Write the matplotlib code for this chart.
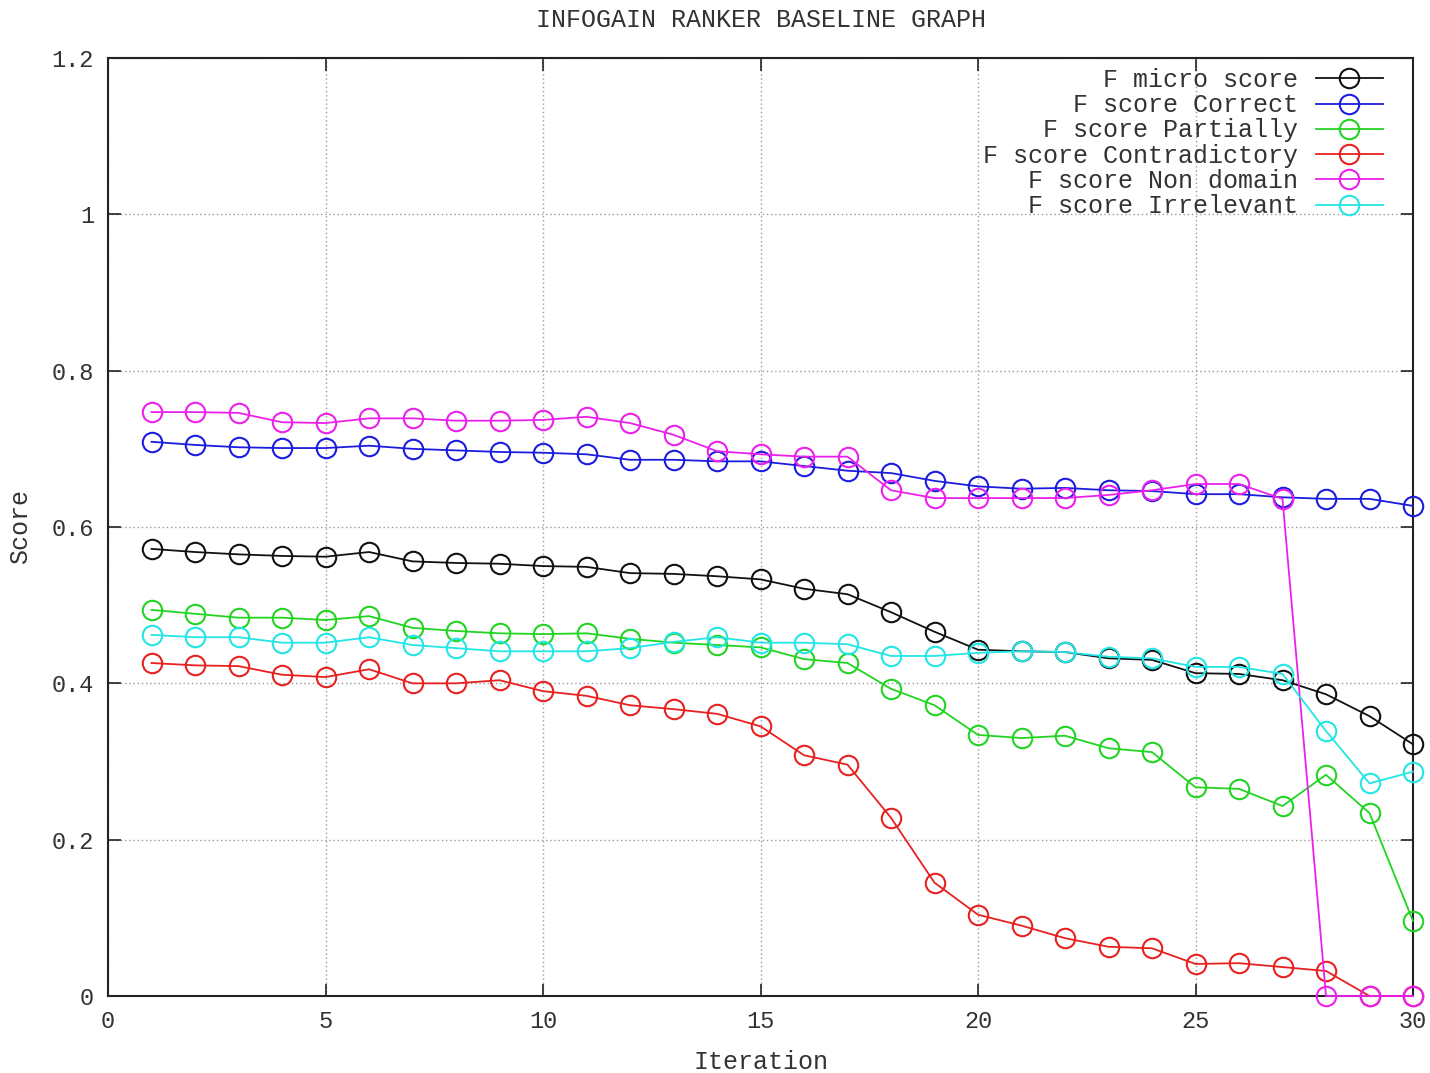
import matplotlib
matplotlib.use("Agg")
import matplotlib.pyplot as plt

iterations = list(range(1, 31))

f_micro = [0.572, 0.568, 0.565, 0.563, 0.562, 0.568, 0.556, 0.554, 0.553, 0.550,
           0.549, 0.541, 0.540, 0.537, 0.533, 0.521, 0.514, 0.491, 0.466, 0.443,
           0.441, 0.440, 0.432, 0.430, 0.413, 0.412, 0.404, 0.386, 0.358, 0.322]
f_correct = [0.709, 0.705, 0.702, 0.701, 0.701, 0.704, 0.700, 0.698, 0.696, 0.695,
             0.693, 0.686, 0.686, 0.684, 0.684, 0.678, 0.672, 0.669, 0.659, 0.652,
             0.649, 0.650, 0.647, 0.646, 0.642, 0.642, 0.638, 0.636, 0.636, 0.627]
f_partially = [0.494, 0.489, 0.484, 0.484, 0.481, 0.486, 0.471, 0.467, 0.464, 0.463,
               0.464, 0.457, 0.452, 0.449, 0.446, 0.431, 0.426, 0.393, 0.372, 0.334,
               0.330, 0.333, 0.317, 0.312, 0.267, 0.265, 0.243, 0.283, 0.234, 0.096]
f_contradictory = [0.426, 0.423, 0.422, 0.411, 0.408, 0.418, 0.400, 0.400, 0.404, 0.390,
                   0.384, 0.372, 0.367, 0.361, 0.345, 0.308, 0.296, 0.228, 0.145, 0.104,
                   0.090, 0.074, 0.063, 0.061, 0.041, 0.042, 0.037, 0.032, 0.0, 0.0]
f_nondomain = [0.747, 0.747, 0.746, 0.734, 0.733, 0.739, 0.739, 0.736, 0.736, 0.737,
               0.741, 0.733, 0.718, 0.697, 0.693, 0.690, 0.690, 0.647, 0.637, 0.637,
               0.637, 0.637, 0.641, 0.647, 0.655, 0.655, 0.636, 0.0, 0.0, 0.0]
f_irrelevant = [0.462, 0.459, 0.459, 0.452, 0.452, 0.459, 0.449, 0.445, 0.441, 0.441,
                0.441, 0.445, 0.453, 0.459, 0.452, 0.452, 0.450, 0.435, 0.435, 0.439,
                0.441, 0.440, 0.434, 0.432, 0.421, 0.421, 0.412, 0.339, 0.272, 0.287]

series_labels = ["F micro score", "F score Correct", "F score Partially",
                 "F score Contradictory", "F score Non domain", "F score Irrelevant"]
series_colors = ["#111111", "#1c1ce0", "#22d422", "#e82020", "#ec20ec", "#22e6e6"]

x_ticks = [0, 5, 10, 15, 20, 25, 30]
y_ticks = [0, 0.2, 0.4, 0.6, 0.8, 1.0, 1.2]
y_tick_labels = ["0", "0.2", "0.4", "0.6", "0.8", "1", "1.2"]

plt.rcParams['font.family'] = ['Liberation Mono', 'DejaVu Sans Mono']
text_color = "#333333"

fig = plt.figure(figsize=(14.3, 10.73), dpi=100)
ax = fig.add_axes([108/1430, 1 - 996/1073, (1413-108)/1430, (996-58)/1073])

all_series = [f_micro, f_correct, f_partially, f_contradictory, f_nondomain, f_irrelevant]
for vals, lab, col in zip(all_series, series_labels, series_colors):
    ax.plot(iterations, vals, color=col, lw=1.3, marker='o', markersize=14,
            markerfacecolor='none', markeredgecolor=col, markeredgewidth=1.5,
            label=lab, clip_on=False, zorder=3)

ax.set_xlim(0, 30)
ax.set_ylim(0, 1.2)
ax.set_xticks(x_ticks)
ax.set_yticks(y_ticks)
ax.set_yticklabels(y_tick_labels)
ax.tick_params(direction='in', length=9, width=1.2, top=True, right=True,
               labelsize=17, colors='#222222', labelcolor=text_color, pad=10)
ax.grid(True, color='#9a9a9a', linestyle=(0, (1, 2)), linewidth=1.0)
for s in ax.spines.values():
    s.set_linewidth(1.5)
    s.set_color('#222222')

ax.set_title("INFOGAIN RANKER BASELINE GRAPH", fontsize=18, color=text_color, pad=22)
ax.set_xlabel("Iteration", fontsize=18, color=text_color, labelpad=12)
ax.set_ylabel("Score", fontsize=18, color=text_color, labelpad=14)

leg = ax.legend(loc='upper right', markerfirst=False, frameon=False, fontsize=18,
                handlelength=2.7, labelspacing=0.05, handletextpad=0.7,
                borderaxespad=0.0, borderpad=0.0,
                bbox_to_anchor=((1383 - 108) / 1305, (996 - 68) / 938))
for t in leg.get_texts():
    t.set_color(text_color)
    t.set_ha('right')

fig.savefig("out.png", dpi=100)
